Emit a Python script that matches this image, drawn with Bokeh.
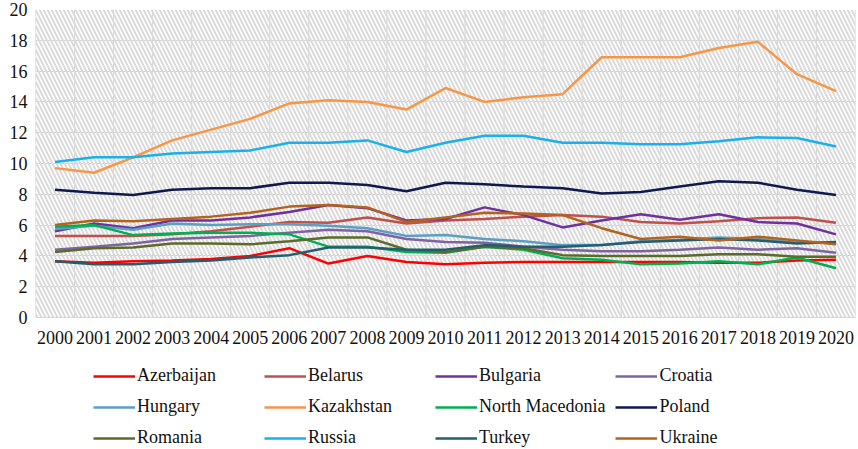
from bokeh.plotting import figure
from bokeh.models import (Legend, LegendItem, FixedTicker, BoxAnnotation, Range1d)
from bokeh.core.properties import value
from bokeh.embed import file_html
from bokeh.resources import INLINE

years = list(range(2000, 2021))

azerbaijan = [3.65, 3.55, 3.65, 3.7, 3.8, 4.0, 4.5, 3.5, 4.0, 3.6, 3.45, 3.55, 3.6, 3.6, 3.6, 3.6, 3.6, 3.55, 3.55, 3.7, 3.75]
belarus = [5.3, 5.3, 5.3, 5.4, 5.6, 5.9, 6.2, 6.15, 6.5, 6.1, 6.3, 6.4, 6.55, 6.65, 6.55, 6.2, 6.1, 6.25, 6.45, 6.5, 6.15]
bulgaria = [5.6, 6.1, 5.8, 6.3, 6.3, 6.5, 6.85, 7.3, 7.1, 6.3, 6.4, 7.15, 6.65, 5.85, 6.3, 6.7, 6.35, 6.7, 6.2, 6.1, 5.4]
croatia = [4.4, 4.6, 4.8, 5.1, 5.2, 5.3, 5.5, 5.7, 5.6, 5.1, 4.9, 4.85, 4.6, 4.4, 4.3, 4.3, 4.4, 4.55, 4.4, 4.5, 4.2]
hungary = [5.75, 5.95, 5.7, 6.1, 6.0, 6.05, 6.05, 5.95, 5.8, 5.3, 5.35, 5.1, 4.95, 4.7, 4.7, 4.95, 5.05, 5.2, 5.1, 4.85, 4.85]
kazakhstan = [9.7, 9.4, 10.4, 11.5, 12.2, 12.9, 13.9, 14.1, 14.0, 13.5, 14.9, 14.0, 14.3, 14.5, 16.9, 16.9, 16.9, 17.5, 17.9, 15.8, 14.7]
north_macedonia = [5.9, 6.0, 5.35, 5.45, 5.5, 5.5, 5.4, 4.6, 4.6, 4.25, 4.2, 4.6, 4.4, 3.85, 3.75, 3.45, 3.5, 3.65, 3.45, 3.9, 3.2]
poland = [8.3, 8.1, 7.95, 8.3, 8.4, 8.4, 8.75, 8.75, 8.6, 8.2, 8.75, 8.65, 8.5, 8.4, 8.05, 8.15, 8.5, 8.85, 8.75, 8.3, 7.95]
romania = [4.25, 4.5, 4.55, 4.8, 4.8, 4.75, 4.95, 5.2, 5.2, 4.4, 4.25, 4.6, 4.5, 4.05, 4.0, 4.0, 4.0, 4.1, 4.1, 3.95, 3.95]
russia = [10.1, 10.4, 10.4, 10.65, 10.75, 10.85, 11.35, 11.35, 11.5, 10.75, 11.35, 11.8, 11.8, 11.35, 11.35, 11.25, 11.25, 11.45, 11.7, 11.65, 11.1]
turkey = [3.65, 3.45, 3.45, 3.6, 3.7, 3.9, 4.05, 4.55, 4.55, 4.4, 4.4, 4.7, 4.6, 4.6, 4.7, 4.9, 5.0, 5.1, 5.0, 4.8, 4.9]
ukraine = [6.0, 6.3, 6.25, 6.4, 6.55, 6.8, 7.2, 7.3, 7.15, 6.2, 6.5, 6.8, 6.75, 6.65, 5.8, 5.1, 5.25, 5.0, 5.25, 5.0, 4.75]

names = ["Azerbaijan", "Belarus", "Bulgaria", "Croatia",
         "Hungary", "Kazakhstan", "North Macedonia", "Poland",
         "Romania", "Russia", "Turkey", "Ukraine"]
series = [azerbaijan, belarus, bulgaria, croatia,
          hungary, kazakhstan, north_macedonia, poland,
          romania, russia, turkey, ukraine]
colors = ["#FF0000", "#C0504D", "#7030A0", "#8064A2",
          "#5B9FC4", "#F79646", "#00B050", "#0E1A4F",
          "#5A6B2A", "#1BB0EA", "#235E6E", "#B5621C"]

y_ticks = list(range(0, 21, 2))
year_labels = [str(y) for y in years]

FONT = "Liberation Serif"
FS = "18px"
GRID = "#D4D4D4"

# layout (pixels): plot area top at 9, zero line at 317, figure bottom at 449
W, H = 858, 449
TOP = 9
ZERO = 317
unit = (ZERO - TOP) / (y_ticks[-1] - y_ticks[0])
y_min = y_ticks[0] - (H - ZERO) / unit

p = figure(width=W, height=H, output_backend="svg", toolbar_location=None,
           x_range=Range1d(years[0] - 0.5, years[-1] + 0.5),
           y_range=Range1d(y_min, y_ticks[-1]),
           min_border_top=TOP, min_border_left=35, min_border_right=3,
           min_border_bottom=0)

p.background_fill_color = "white"
p.border_fill_color = "white"
p.outline_line_color = None
p.xaxis.visible = False

half_years = [y - 0.5 for y in years] + [years[-1] + 0.5]

bg = BoxAnnotation(left=half_years[0], right=half_years[-1],
                   bottom=y_ticks[0], top=y_ticks[-1],
                   fill_color="white", fill_alpha=0, line_color=None,
                   hatch_pattern="left_diagonal_line", hatch_color="#DADADA",
                   hatch_scale=8, hatch_weight=2, level="underlay")
p.add_layout(bg)

p.xgrid.visible = False
p.yaxis.ticker = FixedTicker(ticks=y_ticks)
p.ygrid.ticker = FixedTicker(ticks=y_ticks)
p.ygrid.grid_line_color = GRID

# vertical grid lines between categories
p.segment(x0=half_years, y0=[y_ticks[0]] * len(half_years),
          x1=half_years, y1=[y_ticks[-1]] * len(half_years),
          line_color=GRID, line_width=1, level="underlay")

ax = p.yaxis[0]
ax.axis_line_color = None
ax.major_tick_line_color = None
ax.minor_tick_line_color = None
ax.major_tick_in = 0
ax.major_tick_out = 0
ax.major_label_text_font = FONT
ax.major_label_text_font_size = FS
ax.major_label_text_color = "#111111"
ax.major_label_standoff = 8

# category (year) labels below the plot area
p.text(x=years, y=[y_ticks[0]] * len(years), text=year_labels,
       text_font=value(FONT), text_font_size=FS, text_color="#111111",
       text_align="center", text_baseline="middle", y_offset=20)

items = []
for name, vals, col in zip(names, series, colors):
    r = p.line(years, vals, line_color=col, line_width=2.5)
    items.append(LegendItem(label=name, renderers=[r]))

legend = Legend(items=items, ncols=4, location=(58, 1),
                orientation="horizontal",
                background_fill_alpha=0, border_line_color=None,
                label_text_font=FONT, label_text_font_size=FS,
                label_text_color="#111111",
                glyph_width=42, glyph_height=20, label_height=20,
                label_width=117, label_standoff=2, spacing=10, padding=0,
                margin=0)
p.add_layout(legend, "center")

open("out.html", "w").write(file_html(p, INLINE))
